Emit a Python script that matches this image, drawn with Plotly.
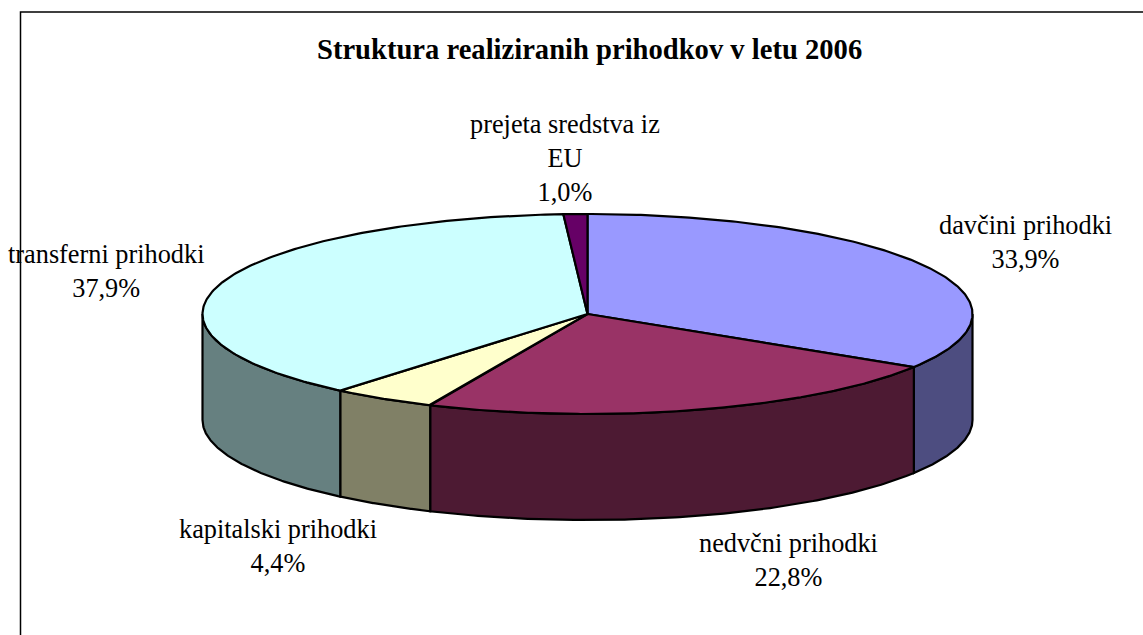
import numpy as np
import plotly.graph_objects as go

categories = ["davčini prihodki", "nedvčni prihodki", "kapitalski prihodki", "transferni prihodki", "prejeta sredstva iz<br>EU"]
values = [33.9, 22.8, 4.4, 37.9, 1.0]
value_labels = ["33,9%", "22,8%", "4,4%", "37,9%", "1,0%"]
top_colors = ["#9999FF", "#993366", "#FFFFCC", "#CCFFFF", "#660066"]
side_colors = ["#4D4D80", "#4D1A33", "#808066", "#668080", "#330033"]
title = "Struktura realiziranih prihodkov v letu 2006"
label_x = [1025, 788.5, 278, 106, 564.5]
label_y = [242, 560, 546, 271, 158]

W, H = 1143, 635
CX, CY, RX, RY, DEPTH = 587.5, 314, 385, 100, 106
LINE = dict(color="black", width=2.2)


def pt(deg, dy=0.0):
    t = np.radians(deg)
    return CX + RX * np.sin(t), CY - RY * np.cos(t) + dy


fig = go.Figure()
edges = np.concatenate([[0], np.cumsum(values)]) / sum(values) * 360

# side walls: only the part of each slice that faces the viewer (90..270 deg)
for i in range(len(values)):
    a, b = max(edges[i], 90), min(edges[i + 1], 270)
    if b <= a:
        continue
    ang = np.linspace(a, b, 120)
    xt, yt = pt(ang)
    xb, yb = pt(ang[::-1], DEPTH)
    fig.add_trace(go.Scatter(x=np.r_[xt, xb, xt[0]], y=np.r_[yt, yb, yt[0]], mode="lines",
                             fill="toself", fillcolor=side_colors[i], line=LINE, hoverinfo="skip"))

# top faces
for i in range(len(values)):
    ang = np.linspace(edges[i], edges[i + 1], 200)
    xt, yt = pt(ang)
    fig.add_trace(go.Scatter(x=np.r_[CX, xt, CX], y=np.r_[CY, yt, CY], mode="lines",
                             fill="toself", fillcolor=top_colors[i], line=LINE, hoverinfo="skip"))

font = dict(family="Liberation Serif", size=26.3, color="black")
for name, val, x, y in zip(categories, value_labels, label_x, label_y):
    fig.add_annotation(x=x, y=y, text=f"{name}<br>{val}", showarrow=False, font=font,
                       align="center", xanchor="center", yanchor="middle")
fig.add_annotation(x=589, y=49, text=f"<b>{title}</b>", showarrow=False,
                   font=dict(family="Liberation Serif", size=28.6, color="black"),
                   xanchor="center", yanchor="middle")

# chart frame
fig.add_shape(type="rect", x0=20.5, y0=12, x1=1160, y1=660, line=dict(color="black", width=1.5),
              fillcolor="rgba(0,0,0,0)", layer="below")

fig.update_layout(
    width=W, height=H, margin=dict(l=0, r=0, t=0, b=0), showlegend=False,
    paper_bgcolor="white", plot_bgcolor="white",
    xaxis=dict(range=[0, W], visible=False, fixedrange=True),
    yaxis=dict(range=[H, 0], visible=False, fixedrange=True),
)
fig.write_html("out.html", config={"displayModeBar": False},
               post_script="document.body.style.margin='0';document.body.style.overflow='hidden';")
